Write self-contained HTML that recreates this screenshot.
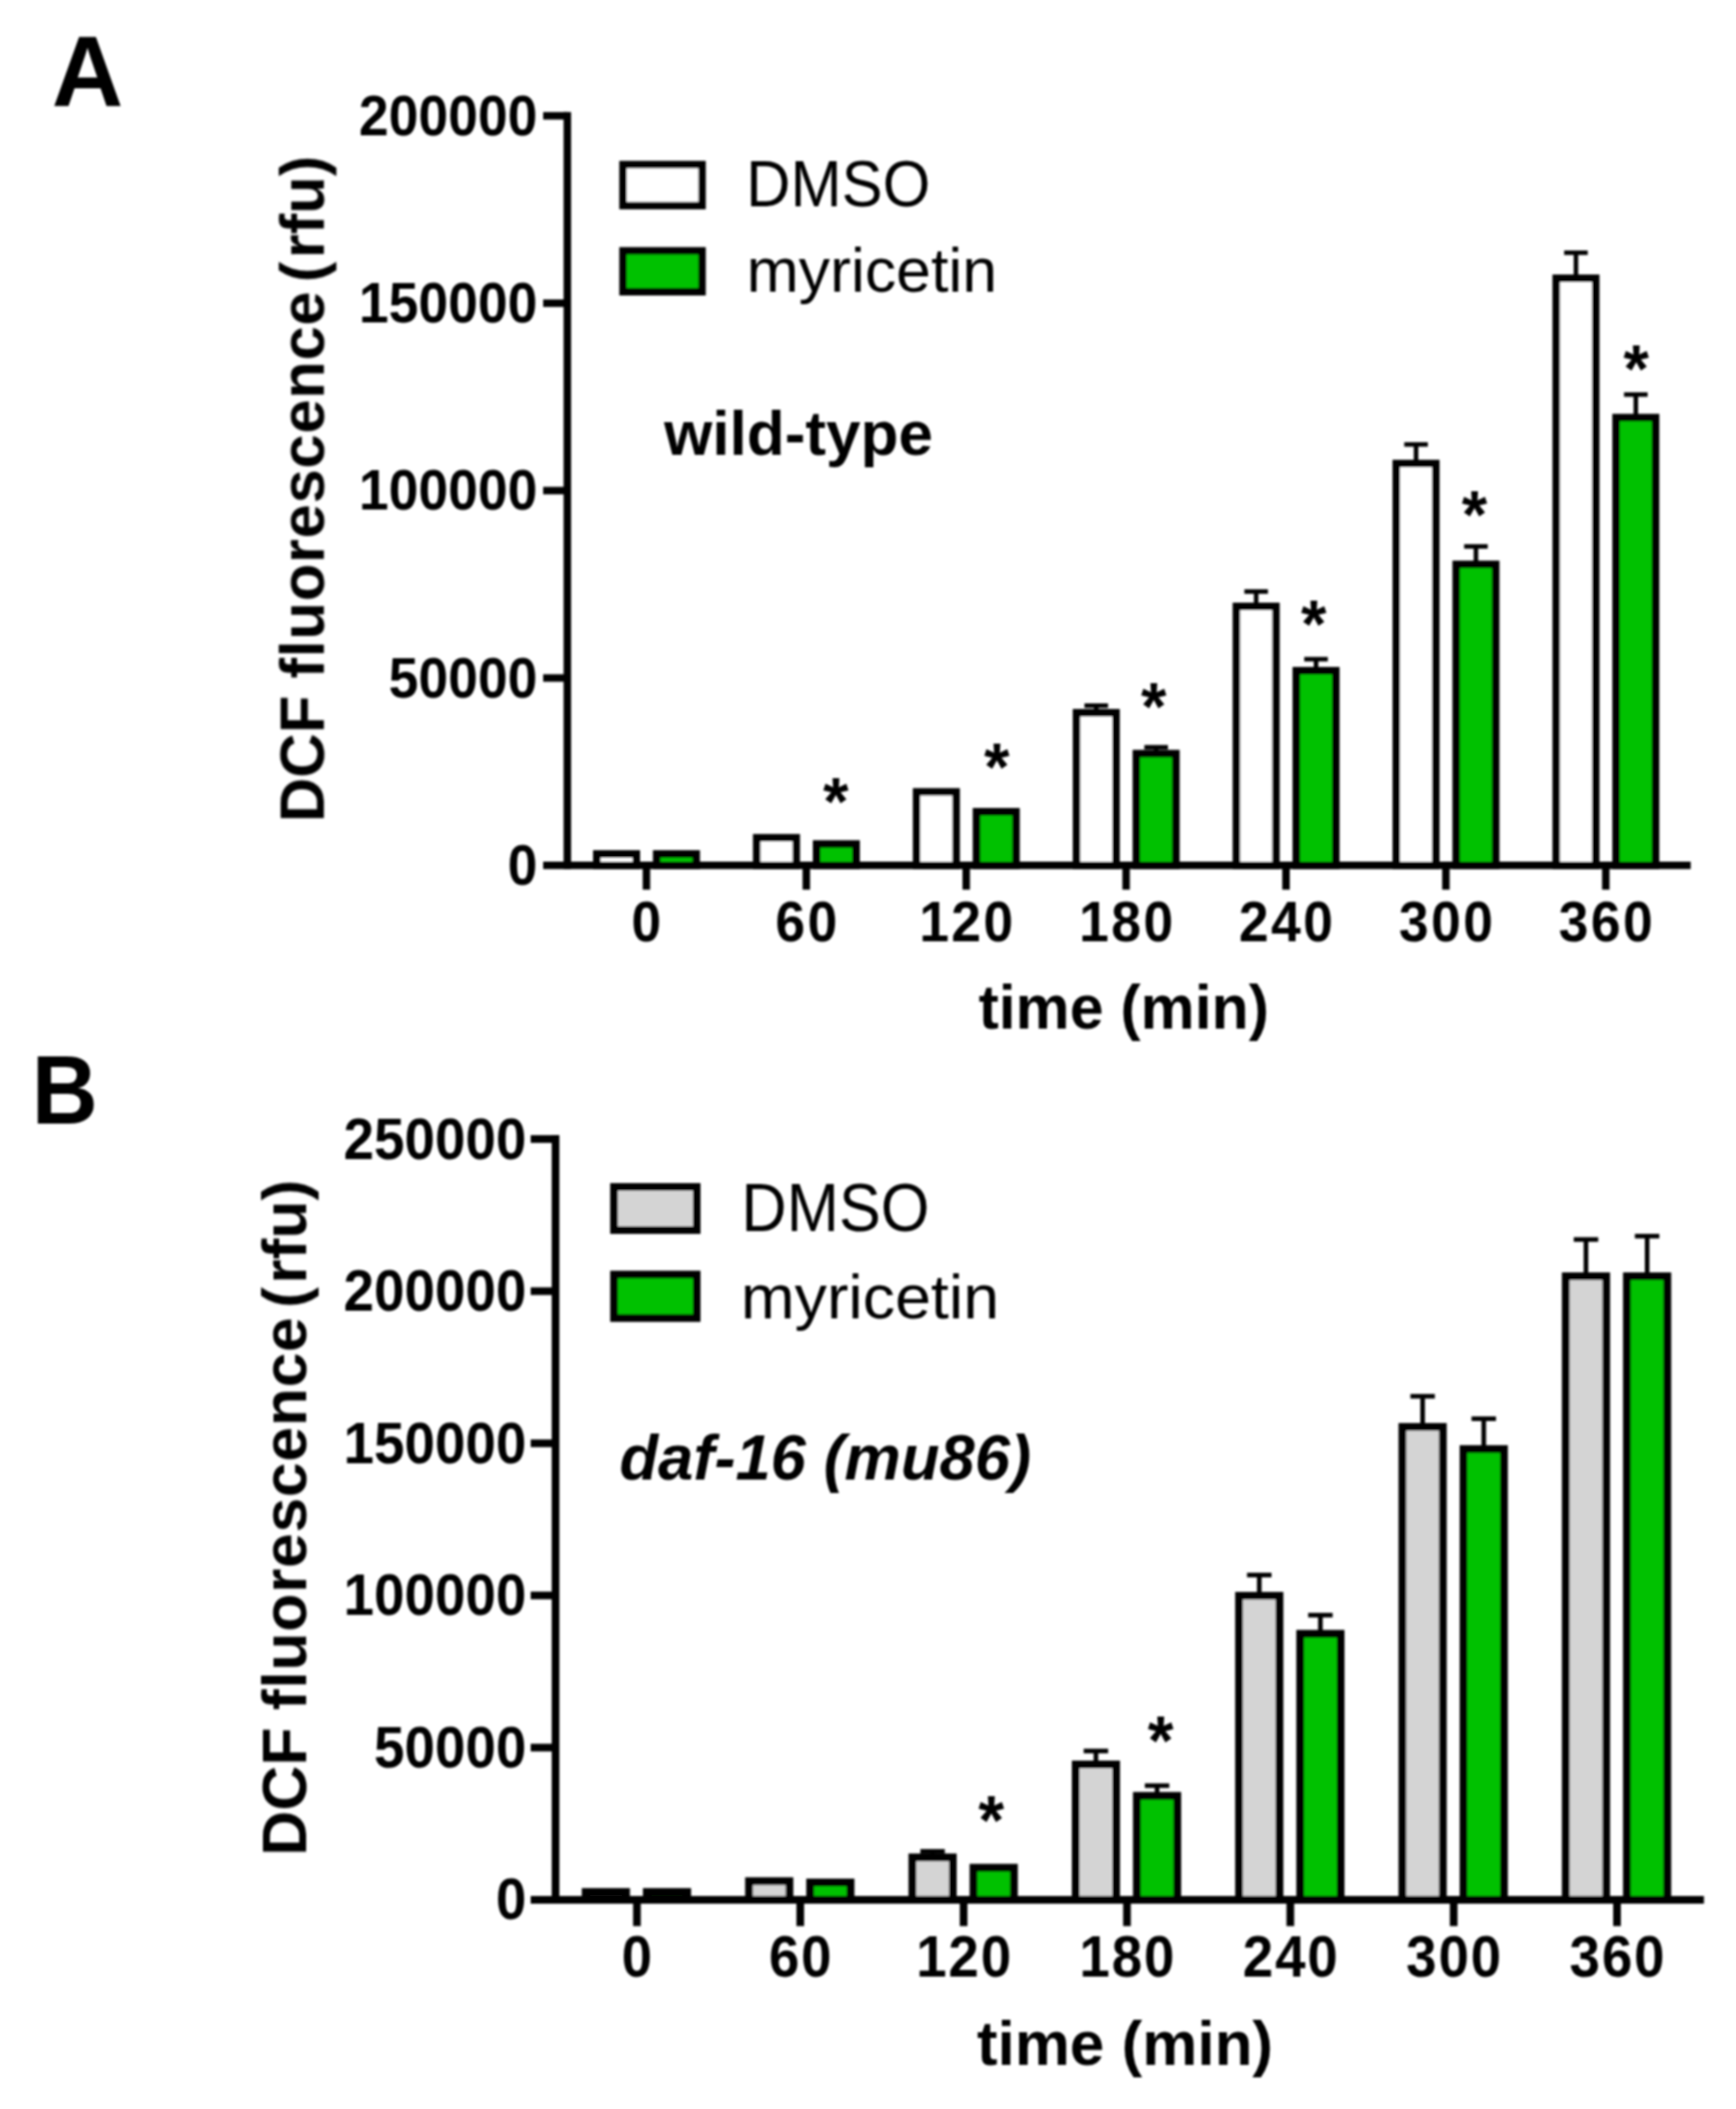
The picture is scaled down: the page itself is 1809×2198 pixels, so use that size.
<!DOCTYPE html>
<html lang="en"><head><meta charset="utf-8"><title>DCF fluorescence: DMSO vs myricetin</title>
<style>
html,body{margin:0;padding:0;background:#fff;}
body{width:1809px;height:2198px;overflow:hidden;}
svg{display:block;font-family:"Liberation Sans",Arial,Helvetica,sans-serif;}
svg text{fill:#000;}
svg line,svg rect{stroke:#000;}
</style></head><body>
<svg width="1809" height="2198" viewBox="0 0 1809 2198">
<defs><filter id="soft" x="-2%" y="-2%" width="104%" height="104%"><feGaussianBlur stdDeviation="0.9"/></filter></defs>
<rect x="0" y="0" width="1809" height="2198" fill="#ffffff" style="stroke:none"/>
<g filter="url(#soft)">
<g id="panelA">
<rect x="621.9" y="890" width="41.2" height="11.9" fill="#ffffff" stroke-width="7.8"/>
<rect x="684.3" y="890" width="41.2" height="11.9" fill="#01c101" stroke-width="7.8"/>
<rect x="788.52" y="873.1" width="41.2" height="28.8" fill="#ffffff" stroke-width="7.8"/>
<rect x="850.92" y="879.6" width="41.2" height="22.3" fill="#01c101" stroke-width="7.8"/>
<rect x="955.14" y="825.3" width="41.2" height="76.6" fill="#ffffff" stroke-width="7.8"/>
<rect x="1017.54" y="846" width="41.2" height="55.9" fill="#01c101" stroke-width="7.8"/>
<line x1="1142.36" y1="735.4" x2="1142.36" y2="744.8" stroke-width="4.7"/>
<line x1="1130.06" y1="735.4" x2="1154.66" y2="735.4" stroke-width="4.7"/>
<rect x="1121.76" y="742.8" width="41.2" height="159.1" fill="#ffffff" stroke-width="7.8"/>
<line x1="1204.76" y1="778.8" x2="1204.76" y2="787.4" stroke-width="4.7"/>
<line x1="1192.46" y1="778.8" x2="1217.06" y2="778.8" stroke-width="4.7"/>
<rect x="1184.16" y="785.4" width="41.2" height="116.5" fill="#01c101" stroke-width="7.8"/>
<line x1="1308.98" y1="616.5" x2="1308.98" y2="634" stroke-width="4.7"/>
<line x1="1296.68" y1="616.5" x2="1321.28" y2="616.5" stroke-width="4.7"/>
<rect x="1288.38" y="632" width="41.2" height="269.9" fill="#ffffff" stroke-width="7.8"/>
<line x1="1371.38" y1="687" x2="1371.38" y2="701" stroke-width="4.7"/>
<line x1="1359.08" y1="687" x2="1383.68" y2="687" stroke-width="4.7"/>
<rect x="1350.78" y="699" width="41.2" height="202.9" fill="#01c101" stroke-width="7.8"/>
<line x1="1475.6" y1="463.2" x2="1475.6" y2="485.1" stroke-width="4.7"/>
<line x1="1463.3" y1="463.2" x2="1487.9" y2="463.2" stroke-width="4.7"/>
<rect x="1455" y="483.1" width="41.2" height="418.8" fill="#ffffff" stroke-width="7.8"/>
<line x1="1538" y1="569.5" x2="1538" y2="590.2" stroke-width="4.7"/>
<line x1="1525.7" y1="569.5" x2="1550.3" y2="569.5" stroke-width="4.7"/>
<rect x="1517.4" y="588.2" width="41.2" height="313.7" fill="#01c101" stroke-width="7.8"/>
<line x1="1642.22" y1="263.4" x2="1642.22" y2="292" stroke-width="4.7"/>
<line x1="1629.92" y1="263.4" x2="1654.52" y2="263.4" stroke-width="4.7"/>
<rect x="1621.62" y="290" width="41.2" height="611.9" fill="#ffffff" stroke-width="7.8"/>
<line x1="1704.62" y1="411.2" x2="1704.62" y2="437.2" stroke-width="4.7"/>
<line x1="1692.32" y1="411.2" x2="1716.92" y2="411.2" stroke-width="4.7"/>
<rect x="1684.02" y="435.2" width="41.2" height="466.7" fill="#01c101" stroke-width="7.8"/>
<line x1="591.2" y1="116.8" x2="591.2" y2="905.8" stroke-width="7.8"/>
<line x1="566" y1="901.9" x2="1761.8" y2="901.9" stroke-width="7.8"/>
<line x1="566" y1="120.7" x2="591.2" y2="120.7" stroke-width="7.8"/>
<text transform="translate(560 140.7) scale(0.995 1.07)" font-size="56" font-weight="bold" font-style="normal" text-anchor="end">200000</text>
<line x1="566" y1="316" x2="591.2" y2="316" stroke-width="7.8"/>
<text transform="translate(560 336) scale(0.995 1.07)" font-size="56" font-weight="bold" font-style="normal" text-anchor="end">150000</text>
<line x1="566" y1="511.3" x2="591.2" y2="511.3" stroke-width="7.8"/>
<text transform="translate(560 531.3) scale(0.995 1.07)" font-size="56" font-weight="bold" font-style="normal" text-anchor="end">100000</text>
<line x1="566" y1="706.6" x2="591.2" y2="706.6" stroke-width="7.8"/>
<text transform="translate(560 726.6) scale(0.995 1.07)" font-size="56" font-weight="bold" font-style="normal" text-anchor="end">50000</text>
<text transform="translate(560 921.9) scale(0.995 1.07)" font-size="56" font-weight="bold" font-style="normal" text-anchor="end">0</text>
<line x1="673.6" y1="901.9" x2="673.6" y2="927.2" stroke-width="7.8"/>
<text transform="translate(673.6 980.5) scale(0.995 1.07)" font-size="56" font-weight="bold" font-style="normal" text-anchor="middle">0</text>
<line x1="840.22" y1="901.9" x2="840.22" y2="927.2" stroke-width="7.8"/>
<text transform="translate(841.46 980.5) scale(0.995 1.07)" font-size="56" font-weight="bold" font-style="normal" text-anchor="middle" letter-spacing="2.5">60</text>
<line x1="1006.84" y1="901.9" x2="1006.84" y2="927.2" stroke-width="7.8"/>
<text transform="translate(1008.08 980.5) scale(0.995 1.07)" font-size="56" font-weight="bold" font-style="normal" text-anchor="middle" letter-spacing="2.5">120</text>
<line x1="1173.46" y1="901.9" x2="1173.46" y2="927.2" stroke-width="7.8"/>
<text transform="translate(1174.7 980.5) scale(0.995 1.07)" font-size="56" font-weight="bold" font-style="normal" text-anchor="middle" letter-spacing="2.5">180</text>
<line x1="1340.08" y1="901.9" x2="1340.08" y2="927.2" stroke-width="7.8"/>
<text transform="translate(1341.32 980.5) scale(0.995 1.07)" font-size="56" font-weight="bold" font-style="normal" text-anchor="middle" letter-spacing="2.5">240</text>
<line x1="1506.7" y1="901.9" x2="1506.7" y2="927.2" stroke-width="7.8"/>
<text transform="translate(1507.94 980.5) scale(0.995 1.07)" font-size="56" font-weight="bold" font-style="normal" text-anchor="middle" letter-spacing="2.5">300</text>
<line x1="1673.32" y1="901.9" x2="1673.32" y2="927.2" stroke-width="7.8"/>
<text transform="translate(1674.56 980.5) scale(0.995 1.07)" font-size="56" font-weight="bold" font-style="normal" text-anchor="middle" letter-spacing="2.5">360</text>
<text transform="translate(1171 1072) scale(0.99 1)" font-size="64" font-weight="bold" font-style="normal" text-anchor="middle">time (min)</text>
<text transform="translate(337.5 509.6) rotate(-90) scale(1.003 1)" font-size="64" font-weight="bold" font-style="normal" text-anchor="middle">DCF <tspan letter-spacing="0.7">fluorescence</tspan><tspan dx="-9"> (</tspan><tspan dx="3.5">rfu)</tspan></text>
<rect x="649.2" y="171.5" width="82.4" height="42.8" fill="#ffffff" stroke-width="7.7"/>
<rect x="649.2" y="261.4" width="82.4" height="42.7" fill="#01c101" stroke-width="7.7"/>
<text transform="translate(777.5 215) scale(1 1.06)" font-size="64" font-weight="normal" font-style="normal" text-anchor="start">DMSO</text>
<text transform="translate(778 304) scale(1.02 1)" font-size="64" font-weight="normal" font-style="normal" text-anchor="start">myricetin</text>
<text transform="translate(692 473.5) scale(1.01 1.02)" font-size="64" font-weight="bold" font-style="normal" text-anchor="start">wild-type</text>
<text transform="translate(871 859.7) scale(1 1.04)" font-size="68" font-weight="bold" font-style="normal" text-anchor="middle">*</text>
<text transform="translate(1038.8 823.8) scale(1 1.04)" font-size="68" font-weight="bold" font-style="normal" text-anchor="middle">*</text>
<text transform="translate(1202.2 761.1) scale(1 1.04)" font-size="68" font-weight="bold" font-style="normal" text-anchor="middle">*</text>
<text transform="translate(1368.9 675.4) scale(1 1.04)" font-size="68" font-weight="bold" font-style="normal" text-anchor="middle">*</text>
<text transform="translate(1536.6 560.7) scale(1 1.04)" font-size="68" font-weight="bold" font-style="normal" text-anchor="middle">*</text>
<text transform="translate(1704.9 408.9) scale(1 1.04)" font-size="68" font-weight="bold" font-style="normal" text-anchor="middle">*</text>
<text transform="translate(54 110) scale(1.073 1.08)" font-size="96" font-weight="bold" font-style="normal" text-anchor="start">A</text>
</g>
<g id="panelB">
<rect x="610.25" y="1971.8" width="42.2" height="8.1" fill="#d4d4d4" stroke-width="8"/>
<rect x="673.95" y="1971.8" width="42.2" height="8.1" fill="#01c101" stroke-width="8"/>
<rect x="780.47" y="1960.5" width="42.2" height="19.4" fill="#d4d4d4" stroke-width="8"/>
<rect x="844.17" y="1961.9" width="42.2" height="18" fill="#01c101" stroke-width="8"/>
<line x1="971.79" y1="1929.5" x2="971.79" y2="1937.7" stroke-width="4.8"/>
<line x1="959.04" y1="1929.5" x2="984.54" y2="1929.5" stroke-width="4.8"/>
<rect x="950.69" y="1935.7" width="42.2" height="44.2" fill="#d4d4d4" stroke-width="8"/>
<rect x="1014.39" y="1946.5" width="42.2" height="33.4" fill="#01c101" stroke-width="8"/>
<line x1="1142.01" y1="1824.9" x2="1142.01" y2="1840.9" stroke-width="4.8"/>
<line x1="1129.26" y1="1824.9" x2="1154.76" y2="1824.9" stroke-width="4.8"/>
<rect x="1120.91" y="1838.9" width="42.2" height="141" fill="#d4d4d4" stroke-width="8"/>
<line x1="1205.71" y1="1861" x2="1205.71" y2="1873.6" stroke-width="4.8"/>
<line x1="1192.96" y1="1861" x2="1218.46" y2="1861" stroke-width="4.8"/>
<rect x="1184.61" y="1871.6" width="42.2" height="108.3" fill="#01c101" stroke-width="8"/>
<line x1="1312.23" y1="1641.5" x2="1312.23" y2="1665.1" stroke-width="4.8"/>
<line x1="1299.48" y1="1641.5" x2="1324.98" y2="1641.5" stroke-width="4.8"/>
<rect x="1291.13" y="1663.1" width="42.2" height="316.8" fill="#d4d4d4" stroke-width="8"/>
<line x1="1375.93" y1="1683.3" x2="1375.93" y2="1704.7" stroke-width="4.8"/>
<line x1="1363.18" y1="1683.3" x2="1388.68" y2="1683.3" stroke-width="4.8"/>
<rect x="1354.83" y="1702.7" width="42.2" height="277.2" fill="#01c101" stroke-width="8"/>
<line x1="1482.45" y1="1455.2" x2="1482.45" y2="1489.1" stroke-width="4.8"/>
<line x1="1469.7" y1="1455.2" x2="1495.2" y2="1455.2" stroke-width="4.8"/>
<rect x="1461.35" y="1487.1" width="42.2" height="492.8" fill="#d4d4d4" stroke-width="8"/>
<line x1="1546.15" y1="1478.6" x2="1546.15" y2="1512.2" stroke-width="4.8"/>
<line x1="1533.4" y1="1478.6" x2="1558.9" y2="1478.6" stroke-width="4.8"/>
<rect x="1525.05" y="1510.2" width="42.2" height="469.7" fill="#01c101" stroke-width="8"/>
<line x1="1652.67" y1="1291.8" x2="1652.67" y2="1332.1" stroke-width="4.8"/>
<line x1="1639.92" y1="1291.8" x2="1665.42" y2="1291.8" stroke-width="4.8"/>
<rect x="1631.57" y="1330.1" width="42.2" height="649.8" fill="#d4d4d4" stroke-width="8"/>
<line x1="1716.37" y1="1288.3" x2="1716.37" y2="1332.1" stroke-width="4.8"/>
<line x1="1703.62" y1="1288.3" x2="1729.12" y2="1288.3" stroke-width="4.8"/>
<rect x="1695.27" y="1330.1" width="42.2" height="649.8" fill="#01c101" stroke-width="8"/>
<line x1="578.9" y1="1183.1" x2="578.9" y2="1983.9" stroke-width="8"/>
<line x1="553" y1="1979.9" x2="1775.6" y2="1979.9" stroke-width="8"/>
<line x1="553" y1="1187.1" x2="578.9" y2="1187.1" stroke-width="8"/>
<text transform="translate(548.5 1207.6) scale(0.996 1.08)" font-size="57.3" font-weight="bold" font-style="normal" text-anchor="end">250000</text>
<line x1="553" y1="1345.66" x2="578.9" y2="1345.66" stroke-width="8"/>
<text transform="translate(548.5 1366.16) scale(0.996 1.08)" font-size="57.3" font-weight="bold" font-style="normal" text-anchor="end">200000</text>
<line x1="553" y1="1504.22" x2="578.9" y2="1504.22" stroke-width="8"/>
<text transform="translate(548.5 1524.72) scale(0.996 1.08)" font-size="57.3" font-weight="bold" font-style="normal" text-anchor="end">150000</text>
<line x1="553" y1="1662.78" x2="578.9" y2="1662.78" stroke-width="8"/>
<text transform="translate(548.5 1683.28) scale(0.996 1.08)" font-size="57.3" font-weight="bold" font-style="normal" text-anchor="end">100000</text>
<line x1="553" y1="1821.34" x2="578.9" y2="1821.34" stroke-width="8"/>
<text transform="translate(548.5 1841.84) scale(0.996 1.08)" font-size="57.3" font-weight="bold" font-style="normal" text-anchor="end">50000</text>
<text transform="translate(548.5 2000.4) scale(0.996 1.08)" font-size="57.3" font-weight="bold" font-style="normal" text-anchor="end">0</text>
<line x1="663.7" y1="1979.9" x2="663.7" y2="2007.4" stroke-width="8"/>
<text transform="translate(663.7 2060) scale(0.996 1.08)" font-size="57.3" font-weight="bold" font-style="normal" text-anchor="middle">0</text>
<line x1="833.92" y1="1979.9" x2="833.92" y2="2007.4" stroke-width="8"/>
<text transform="translate(834.87 2060) scale(0.996 1.08)" font-size="57.3" font-weight="bold" font-style="normal" text-anchor="middle" letter-spacing="1.9">60</text>
<line x1="1004.14" y1="1979.9" x2="1004.14" y2="2007.4" stroke-width="8"/>
<text transform="translate(1005.09 2060) scale(0.996 1.08)" font-size="57.3" font-weight="bold" font-style="normal" text-anchor="middle" letter-spacing="1.9">120</text>
<line x1="1174.36" y1="1979.9" x2="1174.36" y2="2007.4" stroke-width="8"/>
<text transform="translate(1175.31 2060) scale(0.996 1.08)" font-size="57.3" font-weight="bold" font-style="normal" text-anchor="middle" letter-spacing="1.9">180</text>
<line x1="1344.58" y1="1979.9" x2="1344.58" y2="2007.4" stroke-width="8"/>
<text transform="translate(1345.53 2060) scale(0.996 1.08)" font-size="57.3" font-weight="bold" font-style="normal" text-anchor="middle" letter-spacing="1.9">240</text>
<line x1="1514.8" y1="1979.9" x2="1514.8" y2="2007.4" stroke-width="8"/>
<text transform="translate(1515.75 2060) scale(0.996 1.08)" font-size="57.3" font-weight="bold" font-style="normal" text-anchor="middle" letter-spacing="1.9">300</text>
<line x1="1685.02" y1="1979.9" x2="1685.02" y2="2007.4" stroke-width="8"/>
<text transform="translate(1685.97 2060) scale(0.996 1.08)" font-size="57.3" font-weight="bold" font-style="normal" text-anchor="middle" letter-spacing="1.9">360</text>
<text transform="translate(1172.3 2151.5) scale(0.988 1)" font-size="65.4" font-weight="bold" font-style="normal" text-anchor="middle">time (min)</text>
<text transform="translate(319 1581.8) rotate(-90) scale(0.996 1)" font-size="65.4" font-weight="bold" font-style="normal" text-anchor="middle">DCF <tspan letter-spacing="0.7">fluorescence</tspan><tspan dx="-9"> (</tspan><tspan dx="3.5">rfu)</tspan></text>
<rect x="639.8" y="1237" width="86.2" height="45" fill="#d4d4d4" stroke-width="7.9"/>
<rect x="639.8" y="1328.3" width="86.2" height="45.4" fill="#01c101" stroke-width="7.9"/>
<text transform="translate(772.5 1283) scale(1 1.07)" font-size="65.4" font-weight="normal" font-style="normal" text-anchor="start">DMSO</text>
<text transform="translate(772 1374) scale(1.029 0.99)" font-size="65.4" font-weight="normal" font-style="normal" text-anchor="start">myricetin</text>
<text transform="translate(645.5 1541.5) scale(1.009 1.025)" font-size="65.4" font-weight="bold" font-style="italic" text-anchor="start">daf-16 (mu86)</text>
<text transform="translate(1033 1922.4) scale(1 1.04)" font-size="69" font-weight="bold" font-style="normal" text-anchor="middle">*</text>
<text transform="translate(1209.3 1839) scale(1 1.04)" font-size="69" font-weight="bold" font-style="normal" text-anchor="middle">*</text>
<text transform="translate(33 1171) scale(0.985 1.05)" font-size="97" font-weight="bold" font-style="normal" text-anchor="start">B</text>
</g>
</g>
</svg>
</body></html>
